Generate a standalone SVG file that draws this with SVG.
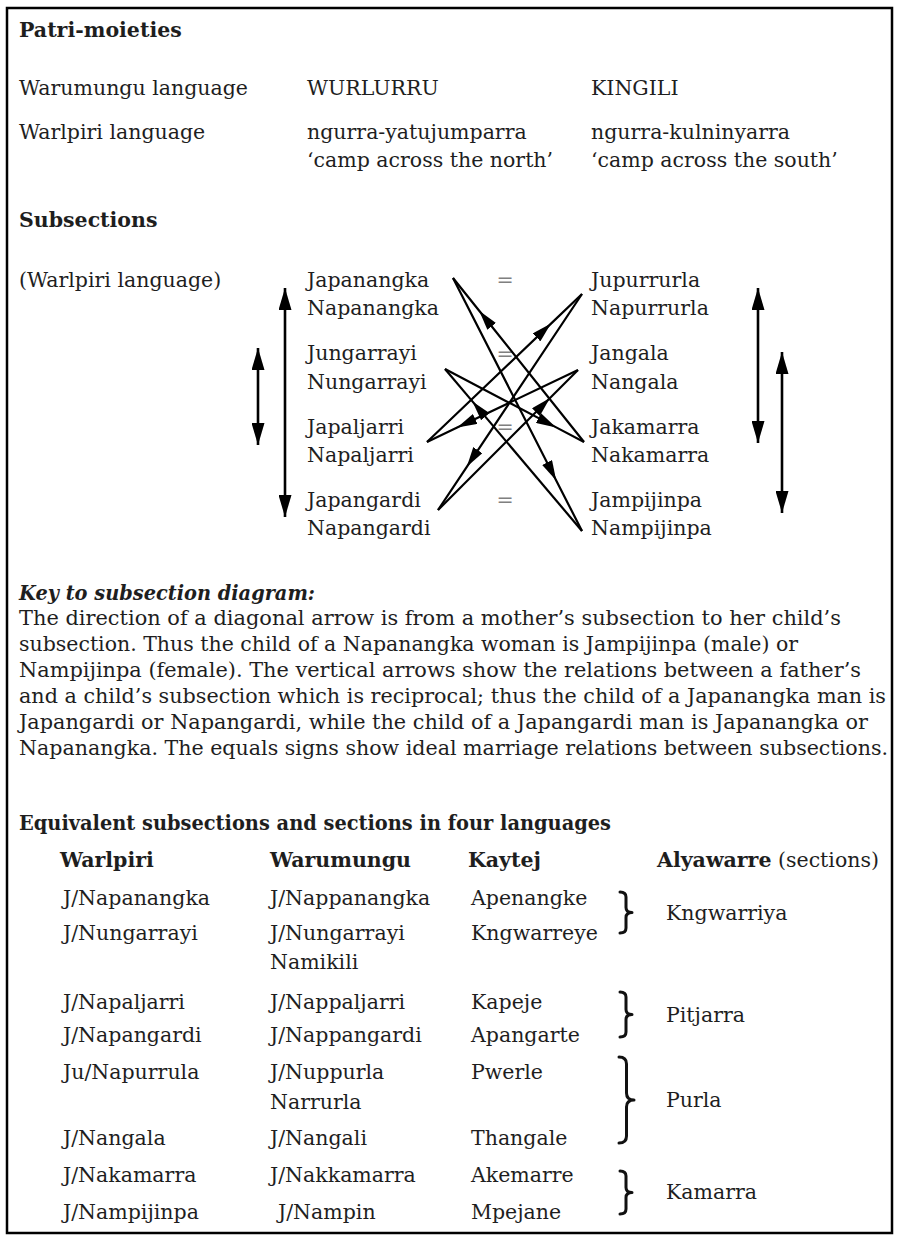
<svg xmlns="http://www.w3.org/2000/svg" width="900" height="1237" viewBox="0 0 900 1237">
<style>
.t{font-family:'DejaVu Serif','Liberation Serif',serif;font-size:20.5px;fill:#1e1e1e}
.b{font-weight:bold}
.i{font-style:italic}
.eq{fill:#808080;text-anchor:middle}
.ln{stroke:#000;stroke-width:2.2;fill:none}
.vl{stroke:#000;stroke-width:2.6;fill:none}
.br{stroke:#111;stroke-width:3;fill:none;stroke-linecap:round;stroke-linejoin:round}
</style>
<defs>
<marker id="ah" viewBox="0 0 20 11" refX="20" refY="5.5" markerWidth="20" markerHeight="11" markerUnits="userSpaceOnUse" orient="auto"><path d="M0,0 L20,5.5 L0,11 z" fill="#000"/></marker>
<marker id="vh" viewBox="0 0 22 13" refX="22" refY="6.5" markerWidth="22" markerHeight="13" markerUnits="userSpaceOnUse" orient="auto-start-reverse"><path d="M0,0 L22,6.5 L0,13 z" fill="#000"/></marker>
</defs>
<rect x="0" y="0" width="900" height="1237" fill="#fff"/>
<rect x="7" y="8" width="885" height="1225" fill="none" stroke="#000" stroke-width="2.5"/>

<g id="patri-moieties">
<text class="t b" x="19" y="37">Patri-moieties</text>
<text class="t" x="19" y="95">Warumungu language</text>
<text class="t" x="307" y="95">WURLURRU</text>
<text class="t" x="591" y="95">KINGILI</text>
<text class="t" x="19" y="139">Warlpiri language</text>
<text class="t" x="307" y="139">ngurra-yatujumparra</text>
<text class="t" x="591" y="139">ngurra-kulninyarra</text>
<text class="t" x="307" y="167">‘camp across the north’</text>
<text class="t" x="591" y="167">‘camp across the south’</text>
</g>

<g id="subsections-heading">
<text class="t b" x="19" y="227">Subsections</text>
<text class="t" x="19" y="287">(Warlpiri language)</text>
</g>

<g id="n-japanangka"><text class="t" x="307" y="287">Japanangka</text><text class="t" x="307" y="315">Napanangka</text></g>
<g id="n-jungarrayi"><text class="t" x="307" y="360">Jungarrayi</text><text class="t" x="307" y="389">Nungarrayi</text></g>
<g id="n-japaljarri"><text class="t" x="307" y="434">Japaljarri</text><text class="t" x="307" y="462">Napaljarri</text></g>
<g id="n-japangardi"><text class="t" x="307" y="507">Japangardi</text><text class="t" x="307" y="535">Napangardi</text></g>
<g id="n-jupurrurla"><text class="t" x="591" y="287">Jupurrurla</text><text class="t" x="591" y="315">Napurrurla</text></g>
<g id="n-jangala"><text class="t" x="591" y="360">Jangala</text><text class="t" x="591" y="389">Nangala</text></g>
<g id="n-jakamarra"><text class="t" x="591" y="434">Jakamarra</text><text class="t" x="591" y="462">Nakamarra</text></g>
<g id="n-jampijinpa"><text class="t" x="591" y="507">Jampijinpa</text><text class="t" x="591" y="535">Nampijinpa</text></g>

<g id="equals">
<text class="t eq" x="505" y="287">=</text>
<text class="t eq" x="505" y="361">=</text>
<text class="t eq" x="505" y="434">=</text>
<text class="t eq" x="505" y="507">=</text>
</g>

<g id="connectors">
<path class="vl" d="M285,288 L285,517" marker-start="url(#vh)" marker-end="url(#vh)"/>
<path class="vl" d="M258,348 L258,445" marker-start="url(#vh)" marker-end="url(#vh)"/>
<path class="vl" d="M758,288 L758,443" marker-start="url(#vh)" marker-end="url(#vh)"/>
<path class="vl" d="M782,352 L782,513" marker-start="url(#vh)" marker-end="url(#vh)"/>
<path class="ln" d="M453,278 L556.2,480.4 L582,531" marker-mid="url(#ah)"/>
<path class="ln" d="M582,531 L472.4,401.4 L445,369" marker-mid="url(#ah)"/>
<path class="ln" d="M445,369 L556.2,427.4 L584,442" marker-mid="url(#ah)"/>
<path class="ln" d="M584,442 L479.2,310.8 L453,278" marker-mid="url(#ah)"/>
<path class="ln" d="M427,442 L551,323.6 L582,294" marker-mid="url(#ah)"/>
<path class="ln" d="M582,294 L466.8,466.8 L438,510" marker-mid="url(#ah)"/>
<path class="ln" d="M438,510 L550,398 L578,370" marker-mid="url(#ah)"/>
<path class="ln" d="M578,370 L457.2,427.6 L427,442" marker-mid="url(#ah)"/>
</g>

<g id="key">
<text class="t b i" x="19" y="600" textLength="296" lengthAdjust="spacingAndGlyphs">Key to subsection diagram:</text>
<text class="t" x="19" y="625" textLength="822" lengthAdjust="spacingAndGlyphs">The direction of a diagonal arrow is from a mother’s subsection to her child’s</text>
<text class="t" x="19" y="651" textLength="779" lengthAdjust="spacingAndGlyphs">subsection. Thus the child of a Napanangka woman is Jampijinpa (male) or</text>
<text class="t" x="19" y="677" textLength="842" lengthAdjust="spacingAndGlyphs">Nampijinpa (female). The vertical arrows show the relations between a father’s</text>
<text class="t" x="19" y="703" textLength="867" lengthAdjust="spacingAndGlyphs">and a child’s subsection which is reciprocal; thus the child of a Japanangka man is</text>
<text class="t" x="19" y="729" textLength="849" lengthAdjust="spacingAndGlyphs">Japangardi or Napangardi, while the child of a Japangardi man is Japanangka or</text>
<text class="t" x="19" y="755" textLength="869" lengthAdjust="spacingAndGlyphs">Napanangka. The equals signs show ideal marriage relations between subsections.</text>
</g>

<g id="table">
<text class="t b" x="19" y="830" textLength="592" lengthAdjust="spacingAndGlyphs">Equivalent subsections and sections in four languages</text>
<text class="t b" x="60" y="867">Warlpiri</text>
<text class="t b" x="270" y="867">Warumungu</text>
<text class="t b" x="468" y="867">Kaytej</text>
<text class="t" x="657" y="867"><tspan class="b">Alyawarre</tspan> (sections)</text>

<text class="t" x="63" y="905">J/Napanangka</text><text class="t" x="270" y="905">J/Nappanangka</text><text class="t" x="471" y="905">Apenangke</text>
<text class="t" x="63" y="940">J/Nungarrayi</text><text class="t" x="270" y="940">J/Nungarrayi</text><text class="t" x="471" y="940">Kngwarreye</text>
<text class="t" x="270" y="969">Namikili</text>
<text class="t" x="63" y="1009">J/Napaljarri</text><text class="t" x="270" y="1009">J/Nappaljarri</text><text class="t" x="471" y="1009">Kapeje</text>
<text class="t" x="63" y="1042">J/Napangardi</text><text class="t" x="270" y="1042">J/Nappangardi</text><text class="t" x="471" y="1042">Apangarte</text>
<text class="t" x="63" y="1079">Ju/Napurrula</text><text class="t" x="270" y="1079">J/Nuppurla</text><text class="t" x="471" y="1079">Pwerle</text>
<text class="t" x="270" y="1109">Narrurla</text>
<text class="t" x="63" y="1145">J/Nangala</text><text class="t" x="270" y="1145">J/Nangali</text><text class="t" x="471" y="1145">Thangale</text>
<text class="t" x="63" y="1182">J/Nakamarra</text><text class="t" x="270" y="1182">J/Nakkamarra</text><text class="t" x="471" y="1182">Akemarre</text>
<text class="t" x="63" y="1219">J/Nampijinpa</text><text class="t" x="278" y="1219">J/Nampin</text><text class="t" x="471" y="1219">Mpejane</text>

<path class="br" d="M620,892 Q626,892 626,897 L626,907.5 Q626,912.5 632,912.5 Q626,912.5 626,917.5 L626,928 Q626,933 620,933"/>
<path class="br" d="M620,992 Q626,992 626,997 L626,1009.5 Q626,1014.5 632,1014.5 Q626,1014.5 626,1019.5 L626,1032 Q626,1037 620,1037"/>
<path class="br" d="M619,1057 Q626.5,1057 626.5,1064 L626.5,1093 Q626.5,1100 634,1100 Q626.5,1100 626.5,1107 L626.5,1136 Q626.5,1143 619,1143"/>
<path class="br" d="M620,1171 Q626,1171 626,1176 L626,1187.5 Q626,1192.5 632,1192.5 Q626,1192.5 626,1197.5 L626,1209 Q626,1214 620,1214"/>
<text class="t" x="666" y="920">Kngwarriya</text>
<text class="t" x="666" y="1022">Pitjarra</text>
<text class="t" x="666" y="1107">Purla</text>
<text class="t" x="666" y="1199">Kamarra</text>
</g>
</svg>
